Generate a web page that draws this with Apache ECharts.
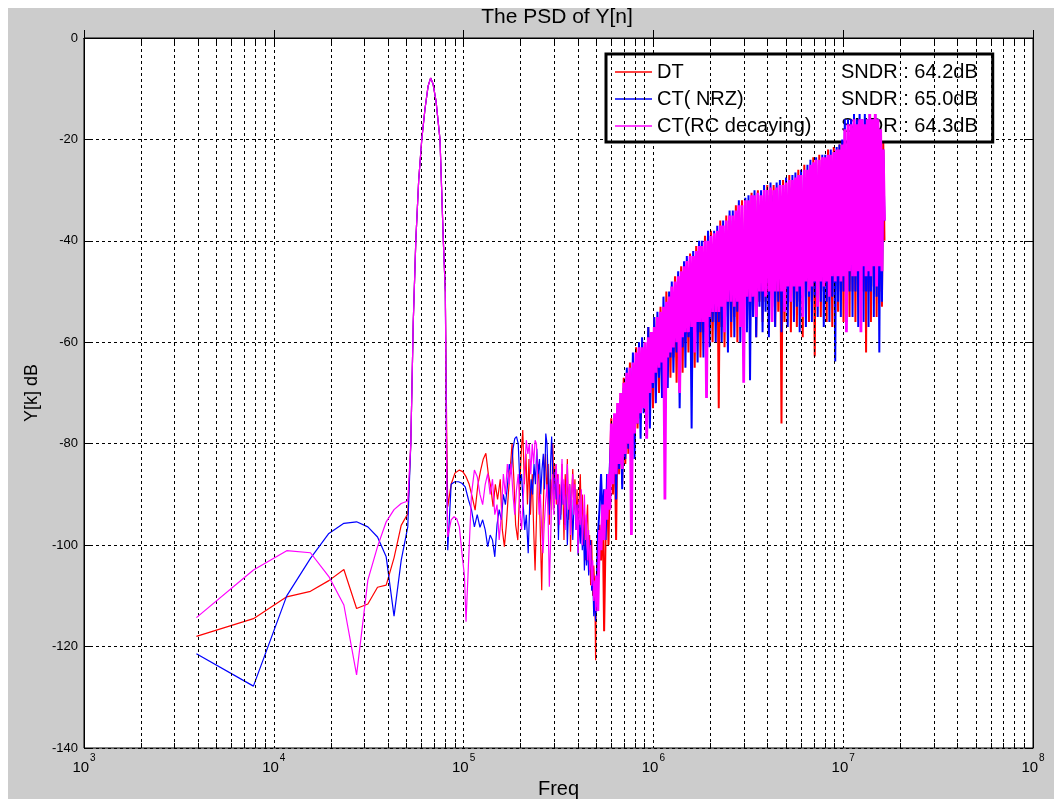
<!DOCTYPE html>
<html>
<head>
<meta charset="utf-8">
<title>The PSD of Y[n]</title>
<script src="https://cdn.jsdelivr.net/npm/echarts@6/dist/echarts.min.js"></script>
<style>
  html, body { margin: 0; padding: 0; background: #ffffff; }
  #chart { position: absolute; left: 8px; top: 8px; width: 1046px; height: 791px; }
</style>
</head>
<body>
<div id="chart"></div>
<script>
// ---- legend / series description ----
const seriesNames = ['DT', 'CT( NRZ)', 'CT(RC decaying)'];
const seriesColors = ['#ff0000', '#0000ff', '#ff00ff'];
const sndrDb = [64.2, 65.0, 64.3];

// ---- axis ticks ----
const xTickExponents = [3, 4, 5, 6, 7, 8];
const yTickValues = [0, -20, -40, -60, -80, -100, -120, -140];

// ---- spectrum values: [frequency in kHz, level in dB] ----
const dtBelowTone = [[3.91,-118.0],[7.81,-114.5],[11.7,-110.2],[15.6,-109.1],[19.5,-107.0],[23.4,-104.8],[27.3,-112.5],[31.3,-111.6],[35.2,-108.3],[39.1,-107.9],[43.0,-102.5],[46.9,-96.1],[50.8,-93.8]];
const nrzBelowTone = [[3.91,-121.4],[7.81,-127.8],[11.7,-110.0],[15.6,-102.6],[19.5,-97.7],[23.4,-95.7],[27.3,-95.4],[31.3,-96.4],[35.2,-98.4],[39.1,-102.3],[43.0,-114.0],[46.9,-103.0],[50.8,-96.4]];
const rcBelowTone = [[3.91,-114.3],[7.81,-104.9],[11.7,-101.1],[15.6,-101.5],[19.5,-106.2],[23.4,-111.8],[27.3,-125.6],[31.3,-106.9],[35.2,-100.3],[39.1,-95.4],[43.0,-93.0],[46.9,-91.8],[50.8,-91.3]];

// input tone, common to the three modulators
const tonePeak = [[52.7,-80.0],[54.3,-56.0],[56.0,-40.0],[58.0,-28.0],[60.2,-20.0],[62.6,-14.0],[65.0,-9.5],[67.0,-7.9],[69.0,-9.0],[71.6,-12.5],[75.1,-20.0],[78.2,-40.0],[80.1,-50.0]];

const dtAboveTone = [[81.5,-78],[82.5,-92.4],[86,-88],[90,-85.8],[95,-85.2],[99,-85.5],[103,-86.5],[107,-88],[111,-90.5],[115,-93.1],[119,-88],[123,-85.2],[127,-83],[131,-81.9],[135,-86],[139,-88.5],[143,-92.4],[147,-88],[151,-91],[156,-87],[160,-97],[164,-100.3],[168,-96],[172,-90],[176,-85],[180,-80],[184,-87],[188,-96],[193,-99],[197,-90],[201,-82],[205,-77.3],[209,-88],[213,-82],[217,-92],[221,-83],[225,-94],[230,-86],[234,-97],[238,-105],[242,-95],[246,-84],[250,-88],[254,-98.4],[258,-108.9],[262,-95],[266,-86],[270,-82],[275,-90],[279,-84],[283,-96],[287,-87],[291,-93],[295,-80],[299,-89],[303,-84],[308,-92],[312,-86],[316,-97],[320,-88],[325,-94],[330,-84],[334,-90],[338,-99],[343,-86],[348,-92],[352,-83],[357,-95],[362,-88],[366,-101.3],[371,-90],[376,-85],[381,-93],[386,-87],[391,-96],[396,-89],[401,-98],[406,-91],[412,-86],[417,-95],[422,-90],[428,-100],[433,-93],[439,-103],[444,-96],[450,-92],[456,-104],[461,-98],[467,-107.9],[473,-99],[479,-110],[485,-104],[491,-108],[496,-122.7]];
const nrzAboveTone = [[81.5,-85],[82.5,-101],[86,-88],[90,-87.5],[94,-87.5],[98,-87.8],[102,-88.5],[106,-91],[110,-93],[114,-96.4],[118,-94],[122,-96.5],[126,-95],[130,-97],[134,-100.3],[138,-98],[142,-99],[146,-102.3],[150,-96],[154,-93],[158,-95],[162,-90],[166,-92],[170,-88.5],[174,-84],[178,-86],[182,-81],[186,-79],[190,-78.6],[194,-80],[198,-88],[202,-86],[206,-92],[210,-97],[214,-94],[219,-101.6],[223,-92],[227,-87],[231,-90],[235,-84],[239,-88],[243,-81],[247,-86],[251,-83],[255,-90],[259,-85],[263,-82],[267,-89],[271,-78],[275,-80],[279,-87],[283,-94],[287,-84],[291,-78.6],[295,-86],[299,-92],[303,-85],[308,-91],[312,-87],[316,-99],[320,-90],[325,-95],[330,-86],[334,-92],[338,-88],[343,-96],[348,-90],[352,-100],[357,-93],[362,-88],[366,-95],[371,-91],[376,-99],[381,-93],[386,-89],[391,-97],[396,-92],[401,-102],[406,-95],[412,-99.7],[417,-93],[422,-101],[428,-96],[433,-105],[439,-98],[444,-104],[450,-100],[456,-106],[461,-103],[467,-99],[473,-109],[479,-106],[485,-114],[491,-110],[496,-115]];
const rcAboveTone = [[81.5,-88],[82.5,-98.4],[86,-95],[89,-94.4],[92,-94.8],[95,-96.4],[98,-101.6],[101,-106],[103,-115.1],[106,-104],[110,-90],[114,-85.2],[118,-86.5],[122,-90],[126,-92],[130,-88],[134,-85.9],[138,-90],[142,-87],[146,-94],[150,-92],[154,-99],[158,-94],[162,-86],[166,-90],[170,-84],[174,-88],[178,-83.9],[182,-90],[186,-94],[190,-89],[194,-86],[198,-93],[202,-97],[206,-91],[210,-85],[214,-79.3],[218,-82],[222,-80],[226,-86],[230,-80],[234,-84],[238,-79.3],[242,-80],[246,-88],[250,-94],[254,-90],[258,-97],[262,-101.6],[266,-96],[270,-92],[275,-88],[279,-95],[283,-108.2],[287,-100],[291,-90],[295,-86],[299,-94],[303,-88],[308,-84],[312,-92],[316,-86],[320,-96],[325,-90],[330,-83],[334,-92],[338,-87],[343,-97],[348,-89],[352,-84],[357,-93],[362,-88],[366,-98],[371,-90],[376,-86],[381,-94],[386,-88],[391,-97],[396,-92],[401,-101.6],[406,-91],[412,-96],[417,-89],[422,-100],[428,-95],[433,-90],[439,-99],[444,-94],[450,-103],[456,-97],[461,-105],[467,-100],[473,-108],[479,-103],[485,-111],[491,-107],[496,-113]];

// shaped quantisation noise band, 500 kHz .. fs/2 (kHz)
const bandKHz = [
  500,510,520,530,540,550,560,570,580,590,
  600,612,624,636,648,660,672,685,698,711,
  724,738,752,766,780,795,810,825,840,856,
  872,888,905,922,940,958,976,995,1010,1030,
  1050,1070,1090,1110,1130,1150,1170,1190,1210,1230,
  1250,1275,1300,1325,1350,1375,1400,1425,1450,1475,
  1500,1530,1560,1590,1620,1650,1680,1710,1740,1770,
  1800,1835,1870,1905,1940,1975,2010,2050,2090,2130,
  2170,2210,2250,2290,2330,2370,2420,2470,2520,2570,
  2620,2670,2720,2770,2820,2870,2930,2990,3050,3110,
  3170,3230,3290,3350,3410,3480,3550,3620,3690,3760,
  3830,3900,3980,4060,4140,4220,4300,4380,4460,4550,
  4640,4730,4820,4910,5000,5100,5200,5300,5400,5500,
  5600,5700,5800,5900,6000,6120,6240,6360,6480,6600,
  6720,6840,6960,7080,7200,7340,7480,7620,7760,7900,
  8040,8180,8320,8460,8600,8760,8920,9080,9240,9400,
  9560,9720,9880,10040,10200,10400,10600,10800,11000,11200,
  11400,11600,11800,12000,12200,12400,12600,12800,13000,13200,
  13400,13600,13800,14000,14250,14500,14750,15000,15250,15500,
  15750,16000,16250,16500
];
const dtBand = [
  -110,-104,-96,-103,-92,-117,-98,-88,-100,-85,
  -75,-90,-77,-99,-72,-86,-70,-88,-67,-84,
  -68,-82,-64,-79,-65,-80,-61,-77,-63,-75,
  -60,-72,-61,-76,-57,-70,-59,-73,-55,-68,
  -56,-70,-53,-66,-54,-72,-50,-64,-52,-67,
  -50,-63,-47,-68,-48,-61,-45,-66,-46,-60,
  -45,-62,-42.5,-59,-44,-65,-41,-58,-42,-63,
  -42,-58,-39,-62,-41,-57,-38,-60,-40,-56,
  -39,-73,-36,-57,-38,-61,-35,-55,-36,-59,
  -36,-55,-33,-60,-35,-54,-32,-58,-34,-53,
  -33,-57,-30.5,-53,-32,-59,-30,-52,-32,-56,
  -31,-52,-29,-58,-31,-53,-29,-57,-30,-54,
  -30,-76,-28,-56,-29,-53,-27,-58,-29,-52,
  -28,-57,-26,-52,-28,-59,-25,-51,-27,-56,
  -26,-52,-23.5,-62.8,-25,-51,-23,-55,-25,-50,
  -24,-56,-22,-50,-23.5,-57,-21.5,-50,-23,-54,
  -21,-50,-20,-56,-17,-49,-17,-55,-16,-50,
  -16,-56,-16,-49,-15,-57,-16,-50,-16,-62,
  -15,-50,-15,-56,-16,-49,-15,-55,-16,-50,
  -17,-53,-20,-40
];
const nrzBand = [
  -112,-98,-93,-86,-95,-89,-99,-86,-92,-84,
  -78,-87,-76,-91,-73,-85,-71,-89,-69,-83,
  -65,-81,-67,-77,-62,-83,-64,-76,-60,-79,
  -59,-74,-62,-71,-57,-77,-60,-69,-55,-72,
  -54,-67,-56,-71,-51,-64,-54,-69,-50,-63,
  -48,-66,-50,-62,-46,-73,-48,-61,-44,-65,
  -43,-59,-45,-77,-42,-60,-44,-64,-40,-58,
  -40,-63,-42,-57,-38,-61,-41,-56,-38,-60,
  -37,-56,-39,-60,-36,-55,-38,-62,-34,-56,
  -34,-59,-36,-54,-32,-60,-35,-55,-31.5,-58,
  -31,-67.5,-33,-55,-30,-59,-32,-53,-30,-58,
  -29,-54,-31,-59,-28.5,-53,-31,-57,-28.5,-52,
  -28,-58,-30,-53,-27.5,-57,-29.5,-52,-27,-56,
  -26.5,-53,-28.5,-58,-26,-52,-27.5,-57,-25,-51,
  -24,-56,-26,-51,-23.5,-55,-25.5,-52,-23,-57,
  -23,-52,-24.5,-56,-22,-51,-24,-63.8,-21.5,-52,
  -21,-55,-20,-50,-16,-56,-16,-50,-16,-55,
  -15,-50,-16,-57,-15,-51,-16,-56,-15,-50,
  -16,-57,-15,-50,-16,-55,-15,-51,-16,-62,
  -18,-52,-22,-36
];
const rcBand = [
  -106,-113,-97,-101,-92,-99,-89,-95,-86,-93,
  -76,-88,-74,-86,-72,-84,-70,-85,-68,-82,
  -66,-80,-65,-98,-64,-78,-62,-76,-61,-74,
  -61,-73,-60,-79,-59,-70,-58,-68,-57,-66,
  -55,-65,-54,-64,-53,-91,-52,-63,-51,-62,
  -49,-61,-48,-60,-47,-70,-46,-59,-45,-58,
  -44,-58,-43,-57,-43,-62,-42,-56,-41,-56,
  -41,-56,-40,-71,-40,-55,-39,-54,-38.5,-54,
  -38,-54,-37,-53,-37,-58,-36,-52,-35,-52,
  -35,-53,-34,-52,-33,-57,-33,-68,-32,-51,
  -32,-52,-31,-51,-31,-55,-30.5,-50,-31,-50,
  -30,-51,-30,-50,-29.5,-56,-30,-50,-29.5,-50,
  -29,-50,-29,-54,-28.5,-49,-28,-52,-28,-49,
  -27.5,-50,-27,-49,-27,-55,-26,-48,-26,-50,
  -25,-49,-24.5,-48,-24,-53,-24,-48,-23.5,-49,
  -23.5,-48,-23,-51,-23,-47,-22.5,-48,-22,-47,
  -22,-48,-21,-47,-18,-58,-17,-46,-17,-47,
  -16,-47,-17,-46,-16,-58,-16,-45,-17,-47,
  -16,-46,-15,-47,-16,-45,-15,-49,-16,-45,
  -18,-46,-22,-36
];

// ---- build [Hz, dB] pairs: in-band part and shaped-noise part ----
function buildInBand(below, above, band) {
  const pts = below.concat(tonePeak, above).map(p => [p[0] * 1000, p[1]]);
  pts.push([bandKHz[0] * 1000, band[0]]);
  return pts;
}
function buildNoise(band) {
  return bandKHz.map((f, i) => [f * 1000, band[i]]);
}
const inBand = [
  buildInBand(dtBelowTone, dtAboveTone, dtBand),
  buildInBand(nrzBelowTone, nrzAboveTone, nrzBand),
  buildInBand(rcBelowTone, rcAboveTone, rcBand)
];
const noise = [buildNoise(dtBand), buildNoise(nrzBand), buildNoise(rcBand)];
const noiseLineWidth = [2, 2, 2.8];

// ---- log-axis decorations: minor grid at 2..9 x 10^k, with short ticks ----
const yMin = yTickValues[yTickValues.length - 1];
const yMax = yTickValues[0];
const minorFreqs = [];
for (let k = 0; k < xTickExponents.length - 1; k++) {
  for (let m = 2; m <= 9; m++) minorFreqs.push(m * Math.pow(10, xTickExponents[k]));
}
const minorTickDb = 1.0;
const gridDash = { color: '#000', width: 1, type: [3, 3] };
const minorLines = [];
minorFreqs.forEach(f => {
  minorLines.push({ xAxis: f, lineStyle: gridDash });
  minorLines.push([{ coord: [f, yMin], lineStyle: { color: '#000', width: 1, type: 'solid' } }, { coord: [f, yMin + minorTickDb] }]);
  minorLines.push([{ coord: [f, yMax], lineStyle: { color: '#000', width: 1, type: 'solid' } }, { coord: [f, yMax - minorTickDb] }]);
});

const FONT = 'Liberation Sans';
const chart = echarts.init(document.getElementById('chart'), null, { renderer: 'canvas' });

const series = [{
  name: 'axisDecor',
  type: 'line',
  data: [],
  z: 1,
  silent: true,
  markLine: {
    silent: true,
    symbol: ['none', 'none'],
    label: { show: false },
    animation: false,
    data: minorLines
  }
}];
seriesNames.forEach((name, i) => {
  const common = {
    name: name,
    type: 'line',
    symbol: 'none',
    showSymbol: false,
    z: 3 + i,
    itemStyle: { color: seriesColors[i] },
    emphasis: { disabled: true },
    animation: false
  };
  series.push(Object.assign({}, common, { data: inBand[i], lineStyle: { color: seriesColors[i], width: 1.2 } }));
  series.push(Object.assign({}, common, { data: noise[i], lineStyle: { color: seriesColors[i], width: noiseLineWidth[i] } }));
});

chart.setOption({
  animation: false,
  backgroundColor: '#cccccc',
  title: {
    text: 'The PSD of Y[n]',
    left: 549,
    top: -1,
    textAlign: 'center',
    padding: 0,
    textStyle: { fontFamily: FONT, fontSize: 21, fontWeight: 'normal', color: '#000' }
  },
  legend: {
    data: seriesNames,
    orient: 'vertical',
    left: 598,
    top: 46,
    backgroundColor: '#ffffff',
    borderColor: '#000',
    borderWidth: 3,
    borderRadius: 0,
    padding: [8, 15, 6, 9],
    itemWidth: 37,
    itemHeight: 1.5,
    itemGap: 7,
    icon: 'rect',
    selectedMode: false,
    formatter: name => '{n|' + name + '}{s|SNDR : ' + sndrDb[seriesNames.indexOf(name)].toFixed(1) + 'dB}',
    textStyle: {
      color: '#000', fontFamily: FONT, fontSize: 20, lineHeight: 20,
      rich: {
        n: { width: 184, color: '#000', fontFamily: FONT, fontSize: 20, lineHeight: 20 },
        s: { color: '#000', fontFamily: FONT, fontSize: 20, lineHeight: 20 }
      }
    }
  },
  grid: {
    left: 76, top: 30, right: 21, bottom: 51,
    outerBoundsMode: 'none',
    containLabel: false,
    show: true, backgroundColor: '#ffffff', borderColor: '#000', borderWidth: 1
  },
  xAxis: [{
    type: 'log',
    logBase: 10,
    min: Math.pow(10, xTickExponents[0]),
    max: Math.pow(10, xTickExponents[xTickExponents.length - 1]),
    splitNumber: xTickExponents.length - 1,
    name: 'Freq',
    nameLocation: 'middle',
    nameGap: 28,
    nameTextStyle: { fontFamily: FONT, fontSize: 20, color: '#000' },
    axisLine: { show: true, lineStyle: { color: '#000', width: 1 } },
    axisTick: { show: true, inside: true, length: 8, lineStyle: { color: '#000' } },
    splitLine: { show: true, lineStyle: gridDash },
    axisLabel: {
      margin: 5,
      formatter: v => {
        const e = Math.round(Math.log10(v));
        return xTickExponents.indexOf(e) >= 0 ? '{b|10}{e|' + e + '}' : '';
      },
      rich: {
        b: { fontFamily: FONT, fontSize: 15, color: '#000', padding: [7, 0, 0, 0] },
        e: { fontFamily: FONT, fontSize: 10, color: '#000', verticalAlign: 'top', padding: [0, 0, 0, 1] }
      }
    }
  }, {
    type: 'log',
    logBase: 10,
    position: 'top',
    min: Math.pow(10, xTickExponents[0]),
    max: Math.pow(10, xTickExponents[xTickExponents.length - 1]),
    splitNumber: xTickExponents.length - 1,
    axisLine: { show: true, lineStyle: { color: '#000', width: 1 } },
    axisTick: { show: true, inside: true, length: 8, lineStyle: { color: '#000' } },
    axisLabel: { show: false },
    splitLine: { show: false }
  }],
  yAxis: [{
    type: 'value',
    min: yMin,
    max: yMax,
    interval: 20,
    name: 'Y[k] dB',
    nameLocation: 'middle',
    nameRotate: 90,
    nameGap: 43,
    nameTextStyle: { fontFamily: FONT, fontSize: 18, color: '#000' },
    axisLine: { show: true, lineStyle: { color: '#000', width: 1 } },
    axisTick: { show: true, inside: true, length: 8, lineStyle: { color: '#000' } },
    splitLine: { show: true, lineStyle: gridDash },
    axisLabel: { margin: 6, fontFamily: FONT, fontSize: 13, color: '#000' }
  }, {
    type: 'value',
    position: 'right',
    min: yMin,
    max: yMax,
    interval: 20,
    axisLine: { show: true, lineStyle: { color: '#000', width: 1 } },
    axisTick: { show: true, inside: true, length: 8, lineStyle: { color: '#000' } },
    axisLabel: { show: false },
    splitLine: { show: false }
  }],
  series: series
});
</script>
</body>
</html>
